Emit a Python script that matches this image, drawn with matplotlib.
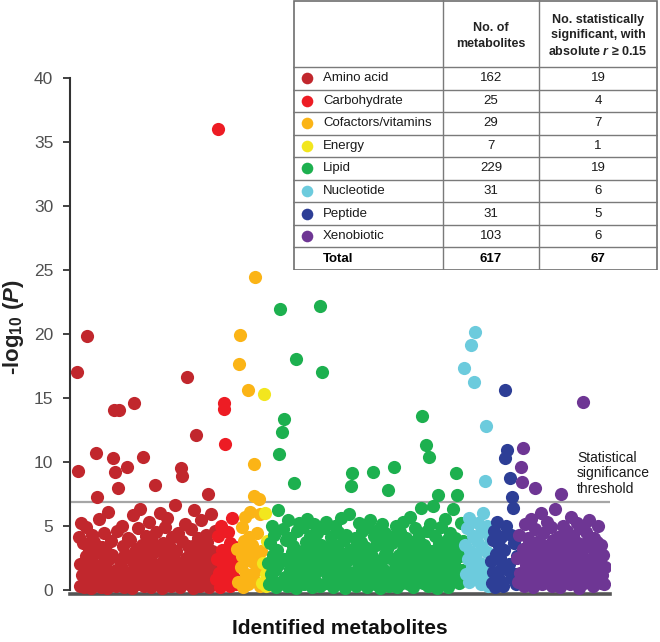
import numpy as np
import matplotlib.pyplot as plt

plt.rcParams["font.family"] = ["Liberation Sans", "DejaVu Sans"]
plt.rcParams["mathtext.fontset"] = "custom"
plt.rcParams["mathtext.rm"] = "Liberation Sans"
plt.rcParams["mathtext.it"] = "Liberation Sans:italic"
plt.rcParams["mathtext.bf"] = "Liberation Sans:bold"
plt.rcParams["mathtext.bfit"] = "Liberation Sans:italic:bold"

# Categories, table counts and colours
categories = ["Amino acid", "Carbohydrate", "Cofactors/vitamins", "Energy",
              "Lipid", "Nucleotide", "Peptide", "Xenobiotic"]
n_metabolites = [162, 25, 29, 7, 229, 31, 31, 103]
n_significant = [19, 4, 7, 1, 19, 6, 5, 6]
total_label = ["Total", "617", "67"]
colors = ["#C1272D", "#ED1C24", "#FBB416", "#F2E61E",
          "#1DB04F", "#6CCBDD", "#2D3E96", "#6E3694"]

threshold = 6.85

# -log10(P) per metabolite, in plotted order
amino_acid = [
    17.0, 9.3, 4.1, 0.3, 2.0, 5.2, 1.1, 3.6, 0.2, 1.4,
    4.9, 2.6, 19.8, 0.5, 3.1, 1.8, 0.1, 4.3, 2.2, 0.7,
    3.7, 1.3, 10.7, 7.2, 0.4, 2.9, 5.5, 1.6, 0.2, 3.3,
    2.1, 4.4, 0.8, 1.9, 3.0, 0.1, 6.1, 2.4, 1.2, 0.6,
    3.8, 2.7, 10.3, 14.0, 9.2, 1.5, 0.3, 4.6, 7.9, 14.0,
    2.3, 0.9, 5.0, 1.7, 3.4, 0.2, 2.8, 1.0, 9.6, 4.0,
    0.5, 2.5, 3.9, 1.4, 0.1, 5.8, 14.6, 2.0, 0.7, 3.2,
    1.8, 4.8, 0.4, 2.6, 6.3, 1.1, 3.5, 10.4, 0.3, 2.2,
    4.2, 1.6, 0.8, 3.0, 5.3, 2.4, 0.2, 1.3, 3.7, 0.6,
    2.9, 8.2, 4.5, 1.9, 0.4, 3.1, 2.0, 6.0, 1.2, 0.1,
    3.6, 2.7, 0.9, 4.9, 1.5, 5.6, 2.3, 0.5, 3.3, 1.7,
    0.3, 4.1, 2.6, 1.0, 6.6, 3.0, 0.7, 2.1, 4.4, 1.4,
    0.2, 9.5, 8.9, 3.8, 1.8, 0.6, 5.1, 2.5, 16.6, 1.1,
    3.4, 0.4, 2.8, 4.7, 1.6, 0.1, 6.2, 2.0, 3.5, 12.1,
    0.8, 4.0, 1.3, 2.7, 0.3, 5.4, 3.2, 1.9, 0.5, 2.4,
    4.3, 1.0, 3.7, 7.5, 0.2, 2.2, 5.9, 1.5, 3.0, 0.6,
    1.8, 4.6,
]
carbohydrate = [
    0.8, 2.4, 4.2, 36.0, 1.3, 0.2, 5.0, 3.1, 1.9, 14.6,
    14.1, 11.4, 0.5, 2.7, 4.5, 1.1, 3.6, 0.3, 2.0, 5.6,
    1.6, 0.9, 3.3, 2.5, 0.4,
]
cofactors = [
    3.2, 0.6, 17.6, 19.9, 1.8, 4.9, 2.6, 0.2, 3.8, 5.7,
    1.2, 2.9, 15.6, 0.4, 4.1, 6.1, 2.2, 3.5, 0.9, 7.3,
    9.8, 24.4, 1.5, 4.4, 2.7, 7.1, 0.3, 5.9, 3.0,
]
energy = [0.5, 2.1, 15.3, 6.0, 1.2, 0.3, 3.8]
lipid = [
    2.1, 0.4, 3.6, 1.2, 5.0, 0.8, 2.7, 4.3, 1.5, 0.2,
    3.1, 6.2, 1.9, 10.6, 21.9, 0.6, 12.3, 4.7, 2.4, 13.3,
    1.0, 3.9, 0.3, 5.4, 2.2, 1.6, 4.0, 0.5, 2.9, 3.4,
    8.3, 1.3, 0.1, 18.0, 4.6, 2.5, 5.2, 1.8, 0.7, 3.0,
    2.0, 4.9, 0.4, 1.4, 3.7, 5.5, 2.6, 0.9, 1.7, 4.2,
    3.3, 0.2, 2.3, 5.1, 1.1, 3.8, 0.6, 4.4, 2.8, 1.5,
    22.2, 0.3, 3.5, 17.0, 1.9, 4.8, 2.1, 0.5, 5.3, 1.2,
    3.0, 2.6, 0.8, 4.1, 1.6, 3.6, 0.2, 2.4, 5.0, 1.3,
    0.7, 3.2, 4.5, 2.0, 1.0, 5.6, 0.4, 2.7, 3.9, 1.8,
    0.1, 4.3, 2.2, 1.4, 5.9, 3.1, 0.6, 8.1, 9.1, 2.5,
    1.1, 4.0, 3.4, 0.3, 2.9, 1.7, 5.2, 0.9, 3.7, 2.1,
    4.6, 0.5, 1.5, 3.3, 2.4, 0.2, 4.9, 1.2, 3.0, 5.4,
    0.8, 2.6, 9.2, 1.9, 4.2, 0.4, 3.5, 2.0, 1.3, 4.7,
    0.1, 3.8, 2.3, 5.1, 1.6, 0.7, 2.8, 4.4, 1.0, 3.2,
    7.8, 0.3, 2.5, 4.1, 1.4, 3.6, 0.6, 9.6, 2.1, 5.0,
    1.8, 0.2, 3.9, 2.7, 4.5, 1.1, 0.5, 3.1, 5.3, 2.2,
    0.9, 4.0, 1.5, 3.4, 0.4, 2.6, 5.7, 1.2, 3.7, 0.2,
    2.3, 4.8, 1.7, 0.7, 3.3, 2.0, 4.3, 1.0, 6.4, 2.8,
    13.6, 0.5, 3.5, 1.4, 11.3, 4.6, 2.4, 0.3, 10.4, 5.1,
    1.9, 3.0, 0.8, 6.5, 2.2, 4.2, 1.3, 0.1, 7.4, 3.6,
    2.7, 0.6, 4.9, 1.6, 3.2, 0.4, 5.5, 2.1, 1.1, 3.9,
    0.2, 2.5, 4.4, 1.8, 0.7, 3.1, 6.3, 2.0, 4.0, 9.1,
    1.2, 7.4, 3.4, 0.5, 2.6, 5.2, 1.5, 0.9, 3.8,
]
nucleotide = [
    17.3, 3.5, 1.2, 4.8, 2.4, 0.6, 5.6, 3.0, 19.1, 1.8,
    4.2, 16.2, 2.7, 20.1, 0.9, 3.8, 5.2, 1.5, 2.1, 4.5,
    0.4, 3.3, 6.0, 1.1, 8.5, 12.8, 2.9, 5.0, 0.3, 1.7,
    4.0,
]
peptide = [
    2.2, 0.5, 3.9, 1.4, 4.6, 0.2, 2.8, 5.3, 1.0, 3.4,
    0.7, 2.5, 4.1, 1.8, 0.3, 3.1, 15.6, 10.3, 5.0, 10.9,
    1.5, 2.0, 8.7, 4.3, 0.9, 7.2, 6.4, 3.6, 1.2, 0.4,
    2.6,
]
xenobiotic = [
    2.5, 0.6, 4.3, 1.3, 9.6, 8.4, 11.1, 3.2, 0.3, 5.1,
    1.9, 2.8, 4.0, 0.8, 3.6, 1.5, 5.5, 2.2, 0.2, 3.0,
    4.7, 7.9, 1.0, 2.6, 0.5, 3.8, 1.7, 6.0, 2.1, 0.4,
    4.4, 3.3, 1.2, 2.9, 5.3, 0.7, 1.8, 3.5, 2.4, 4.9,
    0.3, 2.0, 3.9, 1.4, 6.3, 2.7, 0.9, 4.1, 1.6, 3.1,
    0.2, 7.5, 2.3, 5.0, 1.1, 3.7, 0.6, 2.5, 4.6, 1.9,
    3.4, 0.4, 5.7, 2.2, 1.3, 4.2, 0.8, 3.0, 2.0, 5.2,
    1.5, 3.6, 0.1, 4.8, 2.6, 1.0, 14.7, 3.2, 0.5, 2.1,
    4.5, 1.7, 3.9, 0.7, 5.4, 2.4, 1.2, 3.3, 0.3, 4.0,
    1.6, 2.8, 0.9, 3.7, 5.0, 1.4, 2.2, 0.5, 3.5, 1.1,
    2.7, 0.4, 1.8,
]
series = [amino_acid, carbohydrate, cofactors, energy,
          lipid, nucleotide, peptide, xenobiotic]

fig = plt.figure(figsize=(6.6, 6.42), dpi=100)
ax = fig.add_axes([70 / 660, 48 / 642, 540 / 660, 516 / 642])

# Manhattan-style scatter, one colour per class
start = 0
for vals, col in zip(series, colors):
    x = np.arange(start, start + len(vals))
    ax.scatter(x, vals, s=90, color=col, linewidths=0, zorder=3)
    start += len(vals)

ax.axhline(threshold, color="#A6A6A6", lw=1.6, zorder=2)
fig.text(577 / 660, (642 - 451) / 642, "Statistical\nsignificance\nthreshold",
         ha="left", va="top", fontsize=10, color="#1a1a1a", linespacing=1.12)

ax.set_xlim(-8.2, start + 5)
ax.set_ylim(-0.35, 40)
ax.set_yticks(np.arange(0, 41, 5))
ax.set_xticks([])
ax.tick_params(axis="y", labelsize=12.5, colors="#333333", length=5, width=1.3,
               labelcolor="#505050", pad=7)
for side in ["top", "right"]:
    ax.spines[side].set_visible(False)
ax.spines["left"].set_bounds(0, 40)
ax.spines["left"].set_color("#333333")
ax.spines["left"].set_linewidth(1.5)
ax.spines["bottom"].set_color("#555555")
ax.spines["bottom"].set_linewidth(2.6)

fig.text(0.021, 0.49, r"-log$_{\mathbf{10}}$ ($\mathbfit{P}$)", rotation=90,
         ha="center", va="center", fontsize=16, fontweight="bold", color="#222222")
fig.text(0.515, 8 / 642, "Identified metabolites", ha="center", va="baseline",
         fontsize=15, fontweight="bold", color="#111111")

# Summary table in the top right corner
tab = fig.add_axes([293 / 660, 372 / 642, 365 / 660, 270 / 642], zorder=5)
tab.set_xlim(0, 365)
tab.set_ylim(270, 0)
tab.axis("off")
tab.add_patch(plt.Rectangle((0.5, 0.5), 363, 269, facecolor="white",
                            edgecolor="#6e6e6e", lw=1.2))
line_kw = dict(color="#7a7a7a", lw=1.0)
tab.plot([150, 150], [0, 270], **line_kw)
tab.plot([246, 246], [0, 270], **line_kw)
row_h = 22.55
top = 67
tab.plot([0, 364], [top, top], **line_kw)
for i in range(1, 9):
    tab.plot([0, 364], [top + i * row_h, top + i * row_h], **line_kw)

tab.text(198, 36, "No. of\nmetabolites", ha="center", va="center",
         fontsize=9, fontweight="bold", linespacing=1.4, color="#222222")
tab.text(305, 36, "No. statistically\nsignificant, with\n"
         r"absolute $\mathbfit{r}$ ≥ 0.15", ha="center", va="center",
         fontsize=9, fontweight="bold", linespacing=1.4, color="#222222")

fs = 9.5
for i, (name, n, s, col) in enumerate(zip(categories, n_metabolites, n_significant, colors)):
    yc = top + (i + 0.5) * row_h
    tab.scatter([14], [yc], s=70, color=col, linewidths=0)
    tab.text(30, yc, name, ha="left", va="center", fontsize=fs, color="#1a1a1a")
    tab.text(198, yc, str(n), ha="center", va="center", fontsize=fs, color="#1a1a1a")
    tab.text(305, yc, str(s), ha="center", va="center", fontsize=fs, color="#1a1a1a")

yc = top + 8.5 * row_h
tab.text(30, yc, total_label[0], ha="left", va="center", fontsize=fs, fontweight="bold")
tab.text(198, yc, total_label[1], ha="center", va="center", fontsize=fs, fontweight="bold")
tab.text(305, yc, total_label[2], ha="center", va="center", fontsize=fs, fontweight="bold")

fig.savefig("out.png", dpi=100)
